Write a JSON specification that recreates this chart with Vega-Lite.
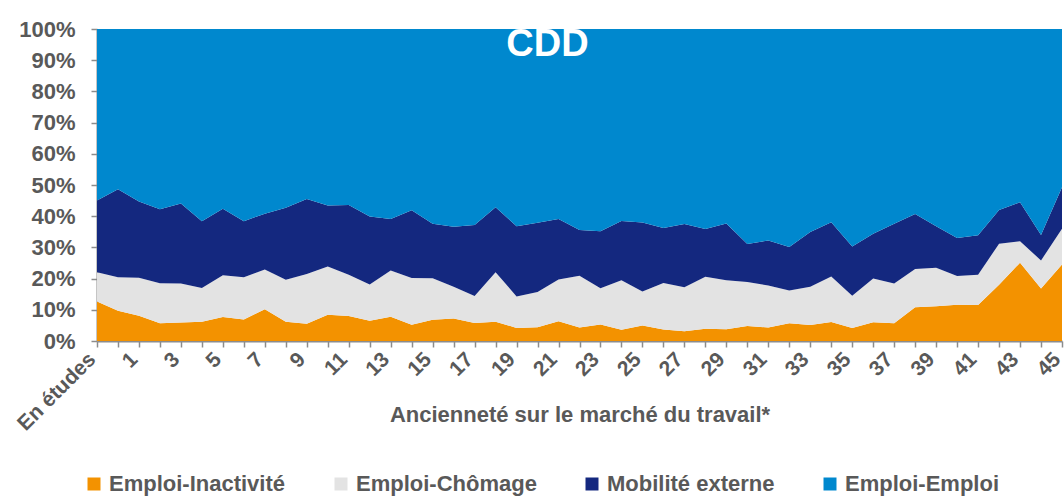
{
  "$schema": "https://vega.github.io/schema/vega-lite/v6.json",
  "width": 965,
  "height": 312,
  "autosize": {"type": "none"},
  "padding": {"left": 97, "top": 29, "right": 2, "bottom": 157},
  "background": "white",
  "config": {"view": {"stroke": null}, "font": "Liberation Sans"},
  "title": {"text": "CDD", "color": "white", "fontSize": 38, "font": "Liberation Sans", "fontWeight": "bold", "anchor": "middle", "dx": -32, "offset": -46},
  "datasets": {
    "rangs": [
      {"serie": "Emploi-Inactivité", "rang": 1},
      {"serie": "Emploi-Chômage", "rang": 2},
      {"serie": "Mobilité externe", "rang": 3},
      {"serie": "Emploi-Emploi", "rang": 4}
    ]
  },
  "data": {"values": [
    {"a": "En études", "Emploi-Inactivité": 12.7, "Emploi-Chômage": 9.3, "Mobilité externe": 23.0, "Emploi-Emploi": 55.0},
    {"a": "0", "Emploi-Inactivité": 9.7, "Emploi-Chômage": 10.7, "Mobilité externe": 28.2, "Emploi-Emploi": 51.4},
    {"a": "1", "Emploi-Inactivité": 8.1, "Emploi-Chômage": 12.2, "Mobilité externe": 24.4, "Emploi-Emploi": 55.3},
    {"a": "2", "Emploi-Inactivité": 5.7, "Emploi-Chômage": 12.8, "Mobilité externe": 23.7, "Emploi-Emploi": 57.8},
    {"a": "3", "Emploi-Inactivité": 5.9, "Emploi-Chômage": 12.5, "Mobilité externe": 25.7, "Emploi-Emploi": 55.9},
    {"a": "4", "Emploi-Inactivité": 6.2, "Emploi-Chômage": 10.8, "Mobilité externe": 21.4, "Emploi-Emploi": 61.6},
    {"a": "5", "Emploi-Inactivité": 7.7, "Emploi-Chômage": 13.4, "Mobilité externe": 21.3, "Emploi-Emploi": 57.6},
    {"a": "6", "Emploi-Inactivité": 6.9, "Emploi-Chômage": 13.5, "Mobilité externe": 18.0, "Emploi-Emploi": 61.6},
    {"a": "7", "Emploi-Inactivité": 10.2, "Emploi-Chômage": 12.7, "Mobilité externe": 17.9, "Emploi-Emploi": 59.2},
    {"a": "8", "Emploi-Inactivité": 6.2, "Emploi-Chômage": 13.4, "Mobilité externe": 23.1, "Emploi-Emploi": 57.3},
    {"a": "9", "Emploi-Inactivité": 5.5, "Emploi-Chômage": 16.0, "Mobilité externe": 24.0, "Emploi-Emploi": 54.5},
    {"a": "10", "Emploi-Inactivité": 8.4, "Emploi-Chômage": 15.5, "Mobilité externe": 19.5, "Emploi-Emploi": 56.6},
    {"a": "11", "Emploi-Inactivité": 8.0, "Emploi-Chômage": 13.2, "Mobilité externe": 22.4, "Emploi-Emploi": 56.4},
    {"a": "12", "Emploi-Inactivité": 6.5, "Emploi-Chômage": 11.6, "Mobilité externe": 21.8, "Emploi-Emploi": 60.1},
    {"a": "13", "Emploi-Inactivité": 7.8, "Emploi-Chômage": 14.8, "Mobilité externe": 16.5, "Emploi-Emploi": 60.9},
    {"a": "14", "Emploi-Inactivité": 5.2, "Emploi-Chômage": 15.0, "Mobilité externe": 21.7, "Emploi-Emploi": 58.1},
    {"a": "15", "Emploi-Inactivité": 6.8, "Emploi-Chômage": 13.3, "Mobilité externe": 17.5, "Emploi-Emploi": 62.4},
    {"a": "16", "Emploi-Inactivité": 7.2, "Emploi-Chômage": 10.2, "Mobilité externe": 19.2, "Emploi-Emploi": 63.4},
    {"a": "17", "Emploi-Inactivité": 5.8, "Emploi-Chômage": 8.6, "Mobilité externe": 22.8, "Emploi-Emploi": 62.8},
    {"a": "18", "Emploi-Inactivité": 6.2, "Emploi-Chômage": 15.8, "Mobilité externe": 20.9, "Emploi-Emploi": 57.1},
    {"a": "19", "Emploi-Inactivité": 4.2, "Emploi-Chômage": 10.1, "Mobilité externe": 22.5, "Emploi-Emploi": 63.2},
    {"a": "20", "Emploi-Inactivité": 4.4, "Emploi-Chômage": 11.3, "Mobilité externe": 22.2, "Emploi-Emploi": 62.1},
    {"a": "21", "Emploi-Inactivité": 6.3, "Emploi-Chômage": 13.4, "Mobilité externe": 19.4, "Emploi-Emploi": 60.9},
    {"a": "22", "Emploi-Inactivité": 4.3, "Emploi-Chômage": 16.6, "Mobilité externe": 14.7, "Emploi-Emploi": 64.4},
    {"a": "23", "Emploi-Inactivité": 5.3, "Emploi-Chômage": 11.6, "Mobilité externe": 18.3, "Emploi-Emploi": 64.8},
    {"a": "24", "Emploi-Inactivité": 3.6, "Emploi-Chômage": 15.9, "Mobilité externe": 19.0, "Emploi-Emploi": 61.5},
    {"a": "25", "Emploi-Inactivité": 5.0, "Emploi-Chômage": 10.9, "Mobilité externe": 22.1, "Emploi-Emploi": 62.0},
    {"a": "26", "Emploi-Inactivité": 3.7, "Emploi-Chômage": 14.9, "Mobilité externe": 17.6, "Emploi-Emploi": 63.8},
    {"a": "27", "Emploi-Inactivité": 3.1, "Emploi-Chômage": 14.1, "Mobilité externe": 20.3, "Emploi-Emploi": 62.5},
    {"a": "28", "Emploi-Inactivité": 3.9, "Emploi-Chômage": 16.7, "Mobilité externe": 15.3, "Emploi-Emploi": 64.1},
    {"a": "29", "Emploi-Inactivité": 3.8, "Emploi-Chômage": 15.7, "Mobilité externe": 18.2, "Emploi-Emploi": 62.3},
    {"a": "30", "Emploi-Inactivité": 4.8, "Emploi-Chômage": 14.1, "Mobilité externe": 12.2, "Emploi-Emploi": 68.9},
    {"a": "31", "Emploi-Inactivité": 4.3, "Emploi-Chômage": 13.5, "Mobilité externe": 14.4, "Emploi-Emploi": 67.8},
    {"a": "32", "Emploi-Inactivité": 5.7, "Emploi-Chômage": 10.5, "Mobilité externe": 13.9, "Emploi-Emploi": 69.9},
    {"a": "33", "Emploi-Inactivité": 5.1, "Emploi-Chômage": 12.3, "Mobilité externe": 17.5, "Emploi-Emploi": 65.1},
    {"a": "34", "Emploi-Inactivité": 6.1, "Emploi-Chômage": 14.6, "Mobilité externe": 17.4, "Emploi-Emploi": 61.9},
    {"a": "35", "Emploi-Inactivité": 4.2, "Emploi-Chômage": 10.3, "Mobilité externe": 15.8, "Emploi-Emploi": 69.7},
    {"a": "36", "Emploi-Inactivité": 6.0, "Emploi-Chômage": 14.0, "Mobilité externe": 14.4, "Emploi-Emploi": 65.6},
    {"a": "37", "Emploi-Inactivité": 5.7, "Emploi-Chômage": 12.7, "Mobilité externe": 19.2, "Emploi-Emploi": 62.4},
    {"a": "38", "Emploi-Inactivité": 10.8, "Emploi-Chômage": 12.3, "Mobilité externe": 17.6, "Emploi-Emploi": 59.3},
    {"a": "39", "Emploi-Inactivité": 11.1, "Emploi-Chômage": 12.4, "Mobilité externe": 13.3, "Emploi-Emploi": 63.2},
    {"a": "40", "Emploi-Inactivité": 11.6, "Emploi-Chômage": 9.2, "Mobilité externe": 12.2, "Emploi-Emploi": 67.0},
    {"a": "41", "Emploi-Inactivité": 11.5, "Emploi-Chômage": 9.7, "Mobilité externe": 12.7, "Emploi-Emploi": 66.1},
    {"a": "42", "Emploi-Inactivité": 18.0, "Emploi-Chômage": 13.2, "Mobilité externe": 10.8, "Emploi-Emploi": 58.0},
    {"a": "43", "Emploi-Inactivité": 25.1, "Emploi-Chômage": 6.9, "Mobilité externe": 12.5, "Emploi-Emploi": 55.5},
    {"a": "44", "Emploi-Inactivité": 16.8, "Emploi-Chômage": 9.0, "Mobilité externe": 8.2, "Emploi-Emploi": 66.0},
    {"a": "45", "Emploi-Inactivité": 24.5, "Emploi-Chômage": 11.5, "Mobilité externe": 13.3, "Emploi-Emploi": 50.7}
  ]},
  "transform": [
    {"fold": ["Emploi-Inactivité", "Emploi-Chômage", "Mobilité externe", "Emploi-Emploi"], "as": ["serie", "valeur"]},
    {"lookup": "serie", "from": {"data": {"name": "rangs"}, "key": "serie", "fields": ["rang"]}}
  ],
  "mark": {"type": "area", "interpolate": "linear"},
  "encoding": {
    "x": {
      "field": "a", "type": "ordinal", "sort": null,
      "scale": {"type": "point", "padding": 0},
      "axis": {
        "title": "Ancienneté sur le marché du travail*",
        "titleFont": "Liberation Sans", "titleFontSize": 22, "titleFontWeight": "bold", "titleColor": "#595959",
        "titleY": 73, "titleBaseline": "middle",
        "labelExpr": "datum.value == 'En études' || toNumber(datum.value) % 2 == 1 ? datum.label : ''",
        "labelAngle": -45, "labelAlign": "right", "labelBaseline": "middle",
        "labelFont": "Liberation Sans", "labelFontSize": 21, "labelFontWeight": "bold", "labelColor": "#595959",
        "labelPadding": 9, "labelOffset": -5, "labelOverlap": false, "labelFlush": false,
        "domainColor": "#8c8c8c", "domainWidth": 2, "tickColor": "#8c8c8c", "tickSize": 6, "tickWidth": 1.5,
        "grid": false
      }
    },
    "y": {
      "field": "valeur", "type": "quantitative", "stack": "normalize",
      "scale": {"domain": [0, 1], "nice": false},
      "axis": {
        "title": null, "format": ".0%", "values": [0, 0.1, 0.2, 0.3, 0.4, 0.5, 0.6, 0.7, 0.8, 0.9, 1],
        "labelFont": "Liberation Sans", "labelFontSize": 22, "labelFontWeight": "bold", "labelColor": "#595959",
        "labelPadding": 16,
        "domainColor": "#8c8c8c", "domainWidth": 2, "tickColor": "#8c8c8c", "tickSize": 6, "tickWidth": 1.5,
        "grid": false
      }
    },
    "order": {"field": "rang", "type": "quantitative", "sort": "ascending"},
    "color": {
      "field": "serie", "type": "nominal",
      "sort": ["Emploi-Inactivité", "Emploi-Chômage", "Mobilité externe", "Emploi-Emploi"],
      "scale": {"domain": ["Emploi-Inactivité", "Emploi-Chômage", "Mobilité externe", "Emploi-Emploi"], "range": ["#F39200", "#E3E3E3", "#14287F", "#0088CE"]},
      "legend": {
        "title": null, "orient": "none", "legendX": -14, "legendY": 444, "direction": "horizontal",
        "symbolType": "square", "symbolSize": 169, "symbolStrokeWidth": 0, "symbolOpacity": 1,
        "labelFont": "Liberation Sans", "labelFontSize": 22, "labelFontWeight": "bold", "labelColor": "#595959",
        "labelOffset": 4, "columnPadding": 44, "labelLimit": 300
      }
    }
  }
}
